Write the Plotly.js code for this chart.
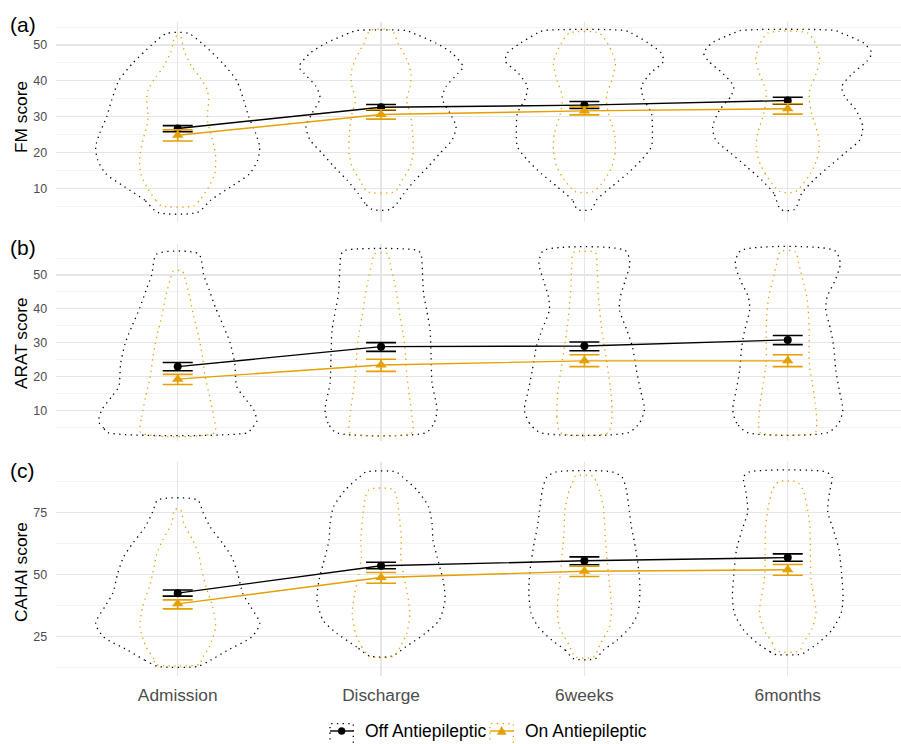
<!DOCTYPE html>
<html>
<head>
<meta charset="utf-8">
<script src="https://cdn.plot.ly/plotly-3.0.1.min.js"></script>
<style>html,body{margin:0;padding:0;background:#fff;}#chart{width:901px;height:744px;}</style>
</head>
<body>
<div id="chart"></div>
<script>
// ---------------- DATA ----------------
const categories = ['Admission', 'Discharge', '6weeks', '6months'];
const groups = ['Off Antiepileptic', 'On Antiepileptic'];

// Means and CI bounds
const fmOffMean = [26.7, 32.6, 33.2, 34.5];
const fmOffLo   = [25.8, 31.8, 32.3, 33.5];
const fmOffHi   = [27.5, 33.4, 34.2, 35.4];
const fmOnMean  = [24.8, 30.6, 31.6, 32.2];
const fmOnLo    = [23.2, 29.3, 30.5, 30.7];
const fmOnHi    = [26.3, 31.9, 32.7, 33.6];

const aratOffMean = [22.9, 28.8, 29.0, 30.8];
const aratOffLo   = [21.7, 27.4, 27.6, 29.4];
const aratOffHi   = [24.1, 30.0, 30.2, 32.1];
const aratOnMean  = [19.2, 23.4, 24.6, 24.6];
const aratOnLo    = [17.6, 21.5, 22.9, 22.9];
const aratOnHi    = [20.6, 25.1, 26.4, 26.4];

const cahaiOffMean = [42.5, 53.5, 55.5, 56.8];
const cahaiOffLo   = [41.3, 52.3, 53.9, 55.3];
const cahaiOffHi   = [43.8, 54.9, 57.1, 58.3];
const cahaiOnMean  = [38.2, 48.8, 51.3, 51.9];
const cahaiOnLo    = [36.2, 46.5, 49.2, 49.7];
const cahaiOnHi    = [39.8, 50.8, 53.3, 54.0];

// Violin outlines: score levels and relative density (half-width) per time point
const fmOffVY = [
  [3.3, 6.7, 10.4, 14.1, 17.9, 21.6, 25.3, 30.0, 34.6, 40.0, 44.9, 50.0, 53.2],
  [4.1, 5.8, 8.6, 12.3, 16.0, 19.8, 23.5, 27.2, 30.9, 35.1, 38.4, 42.1, 43.9, 47.7, 50.5, 53.3, 54.0],
  [4.1, 6.7, 10.4, 14.1, 17.9, 21.6, 25.3, 30.9, 35.1, 38.4, 42.1, 45.4, 47.7, 50.5, 53.3, 54.0],
  [4.1, 8.6, 12.3, 16.0, 19.8, 23.5, 27.2, 31.9, 35.6, 38.4, 42.1, 45.4, 47.7, 50.5, 53.3, 54.0]
];
const fmOffVD = [
  [20, 33, 53, 72, 80, 82, 78, 71, 66, 59, 45, 26, 11],
  [9, 16, 23, 34, 47, 59, 71, 75, 69, 61, 65, 77, 82, 71, 55, 32, 25],
  [7, 12, 27, 43, 57, 67, 68, 67, 59, 57, 66, 79, 77, 64, 47, 41],
  [7, 14, 26, 41, 57, 72, 75, 68, 57, 54, 65, 79, 84, 76, 54, 48]
];
const fmOnVY = [
  [5.1, 6.7, 10.4, 14.1, 18.8, 22.0, 25.3, 28.5, 31.5, 34.7, 37.5, 41.0, 44.0, 48.0, 50.0, 52.3],
  [9.1, 12.3, 16.0, 19.8, 23.5, 27.2, 30.9, 34.7, 38.4, 42.1, 45.8, 50.5, 54.0],
  [9.1, 12.3, 16.0, 20.6, 25.3, 30.9, 35.6, 40.2, 44.9, 47.7, 50.5, 53.3],
  [9.1, 14.1, 17.9, 21.6, 25.3, 30.9, 34.7, 37.5, 42.1, 45.8, 47.7, 50.5, 53.3]
];
const fmOnVD = [
  [16, 22, 31, 37, 38, 36, 33, 30, 30, 31, 29.5, 22, 14, 7, 5, 3],
  [14, 21, 29, 32, 32, 31, 29, 25.5, 29, 30, 26, 17, 11],
  [9, 20, 27.5, 31, 30, 24, 22, 27.5, 31, 28, 23, 15],
  [8, 22.5, 29, 31.5, 30, 24, 21.5, 22, 28.5, 32, 31, 27.5, 20]
];

const aratOffVY = [
  [3.4, 4.7, 6.6, 10.1, 14.0, 17.0, 23.9, 29.8, 34.7, 40.2, 45.6, 50.0, 56.2],
  [3.4, 6.2, 10.1, 18.0, 25.9, 33.7, 39.7, 44.6, 53.4, 56.0, 57.2],
  [3.4, 6.2, 10.1, 16.0, 21.9, 28.8, 33.7, 39.7, 43.6, 48.5, 53.4, 57.2],
  [3.4, 6.2, 10.1, 16.0, 21.9, 28.8, 33.7, 39.7, 43.6, 48.5, 53.4, 57.2]
];
const aratOffVD = [
  [70, 74, 79, 76, 66, 59, 57, 52.5, 46, 38, 31.5, 26, 21],
  [45, 53, 56, 51, 50, 49, 45.5, 42.5, 41, 40, 37],
  [44, 55, 60, 56, 52, 48, 42.5, 35, 36, 41, 45.5, 41],
  [40, 51, 55, 51.5, 48, 46, 43, 38, 39.5, 47.5, 52.5, 47]
];
const aratOnVY = [
  [3.4, 8.1, 14.0, 19.9, 25.9, 31.8, 37.7, 43.6, 48.5, 51.1],
  [3.4, 8.1, 14.0, 19.9, 25.9, 31.8, 37.7, 43.6, 48.5, 53.4, 56.2],
  [3.4, 8.1, 14.0, 23.9, 33.7, 43.6, 53.4, 56.6],
  [3.4, 6.2, 12.1, 18.0, 23.9, 31.8, 37.7, 43.6, 48.5, 53.4, 56.9]
];
const aratOnVD = [
  [37, 36, 32, 27.5, 24.7, 21, 16, 12, 7.7, 4.7],
  [31, 31, 28.5, 26, 24.5, 22.5, 19, 16, 13, 9, 6.7],
  [24, 27.5, 27, 22.5, 17.5, 14, 12.5, 11],
  [27.5, 29, 27.5, 24.5, 21.5, 21.5, 21, 19, 15, 11, 7.5]
];

const cahaiOffVY = [
  [13.1, 15.6, 19.6, 24.9, 30.3, 37.0, 42.4, 50.4, 57.1, 62.5, 69.1, 75.2, 79.9],
  [17.2, 20.9, 26.3, 31.6, 39.7, 47.7, 57.1, 63.8, 70.5, 77.2, 83.9, 89.2, 91.2],
  [16.2, 19.6, 23.6, 28.9, 34.3, 42.4, 50.4, 62.5, 69.1, 75.2, 83.9, 89.2, 91.2],
  [18.0, 18.9, 22.3, 27.6, 34.3, 41.0, 50.4, 59.8, 67.8, 75.2, 82.6, 89.2, 91.2]
];
const cahaiOffVD = [
  [20, 33, 50, 74, 82, 73, 65, 60, 54, 45, 32.5, 25, 20],
  [11, 24.5, 44, 58, 64, 62, 56, 52, 51, 47.5, 36, 21.5, 15],
  [11, 19, 32.5, 46, 53.3, 55.5, 54.7, 50.3, 47, 45, 42, 37.5, 28],
  [14, 17.5, 30, 44, 53.3, 55.3, 53.8, 51.3, 45.8, 40, 41.6, 44.2, 38.3]
];
const cahaiOnVY = [
  [14.0, 16.2, 20.9, 28.9, 37.0, 45.0, 51.7, 58.4, 63.8, 70.5, 76.1],
  [17.2, 20.9, 26.3, 34.3, 42.4, 50.4, 57.1, 63.8, 73.2, 81.2, 84.2],
  [16.9, 22.2, 28.9, 37.0, 50.4, 63.8, 77.2, 83.9, 86.8, 89.5],
  [19.3, 22.5, 27.9, 34.6, 40.0, 48.0, 60.1, 69.5, 77.5, 84.2, 87.2]
];
const cahaiOnVD = [
  [22.5, 24, 31.6, 37.8, 35, 28.3, 24.2, 20.8, 15, 6, 3],
  [12.5, 19.2, 25.5, 28.8, 26.3, 22.2, 19.7, 20.3, 18.3, 15.5, 11.7],
  [9, 16, 25, 27, 24, 21, 19, 15, 12, 9],
  [11.7, 15.3, 24, 28.3, 26.7, 23.3, 22.5, 22.2, 19.2, 15, 9.2]
];

const panelLabels = ['(a)', '(b)', '(c)'];
const yTitles = ['FM score', 'ARAT score', 'CAHAI score'];

// ---------------- STYLE ----------------
const OFF_COLOR = '#000000';
const ON_COLOR = '#E69F00';
const VIOLIN_SCALE = 1 / 203.3;   // density units -> category units
const FONT = 'Liberation Sans, Arial, Helvetica, sans-serif';
const W = 901, H = 744;

const panels = [
  {off: [fmOffMean, fmOffLo, fmOffHi], on: [fmOnMean, fmOnLo, fmOnHi],
   offV: [fmOffVY, fmOffVD], onV: [fmOnVY, fmOnVD]},
  {off: [aratOffMean, aratOffLo, aratOffHi], on: [aratOnMean, aratOnLo, aratOnHi],
   offV: [aratOffVY, aratOffVD], onV: [aratOnVY, aratOnVD]},
  {off: [cahaiOffMean, cahaiOffLo, cahaiOffHi], on: [cahaiOnMean, cahaiOnLo, cahaiOnHi],
   offV: [cahaiOffVY, cahaiOffVD], onV: [cahaiOnVY, cahaiOnVD]}
];

const xPos = categories.map((c, i) => i);

function violinOutline(center, ys, ds) {
  const xs = [], yy = [];
  for (let i = 0; i < ys.length; i++) { xs.push(center - ds[i] * VIOLIN_SCALE); yy.push(ys[i]); }
  for (let i = ys.length - 1; i >= 0; i--) { xs.push(center + ds[i] * VIOLIN_SCALE); yy.push(ys[i]); }
  xs.push(xs[0]); yy.push(yy[0]);
  return {xs, yy};
}

const traces = [];
panels.forEach((p, k) => {
  const xa = k === 0 ? 'x' : 'x' + (k + 1);
  const ya = k === 0 ? 'y' : 'y' + (k + 1);
  [[p.offV, OFF_COLOR], [p.onV, ON_COLOR]].forEach(([v, col]) => {
    categories.forEach((c, i) => {
      const o = violinOutline(xPos[i], v[0][i], v[1][i]);
      traces.push({
        type: 'scatter', mode: 'lines', x: o.xs, y: o.yy, xaxis: xa, yaxis: ya,
        line: {color: col, width: 1.3, dash: '1.3px,4.4px', shape: 'spline', smoothing: 0.7},
        hoverinfo: 'skip', showlegend: false
      });
    });
  });
  [[p.off, OFF_COLOR, 'circle', 8, groups[0]], [p.on, ON_COLOR, 'triangle-up', 10, groups[1]]].forEach(([s, col, sym, sz, name]) => {
    const [mean, lo, hi] = s;
    traces.push({
      type: 'scatter', mode: 'lines+markers', name: name, x: xPos, y: mean, xaxis: xa, yaxis: ya,
      line: {color: col, width: 1.4},
      marker: {color: col, symbol: sym, size: sz},
      error_y: {type: 'data', symmetric: false,
        array: hi.map((h, i) => h - mean[i]), arrayminus: lo.map((l, i) => mean[i] - l),
        color: col, thickness: 1.6, width: 15},
      showlegend: false
    });
  });
});

// ---------------- LAYOUT ----------------
const px = v => v / W;
const py = v => 1 - v / H;

const yRanges = [[0.6, 56.4], [1.0, 59.3], [9.3, 95.2]];
const yDomains = [[py(222), py(22)], [py(440.7), py(243.5)], [py(675.8), py(462)]];
const yDticks = [10, 10, 25];
const labelY = [25, 248, 470];
const titleY = [117, 343, 572];

const layout = {
  width: W, height: H,
  margin: {l: 0, r: 0, t: 0, b: 0},
  paper_bgcolor: '#ffffff', plot_bgcolor: '#ffffff',
  font: {family: FONT, color: '#000000'},
  showlegend: false,
  annotations: [],
  shapes: []
};

for (let k = 0; k < 3; k++) {
  const xk = k === 0 ? 'xaxis' : 'xaxis' + (k + 1);
  const yk = k === 0 ? 'yaxis' : 'yaxis' + (k + 1);
  const ya = k === 0 ? 'y' : 'y' + (k + 1);
  const xa = k === 0 ? 'x' : 'x' + (k + 1);
  layout[xk] = {
    domain: [px(55.7), 1], anchor: ya, range: [-0.6, 3.557],
    tickvals: xPos, ticktext: categories, showticklabels: k === 2,
    ticks: k === 2 ? 'outside' : '', ticklen: 3, tickcolor: 'rgba(0,0,0,0)',
    tickfont: {size: 17.3, color: '#4D4D4D', family: FONT},
    showgrid: true, gridcolor: '#E6E6E6', gridwidth: 1.2,
    zeroline: false, showline: false
  };
  layout[yk] = {
    domain: yDomains[k], anchor: xa, range: yRanges[k],
    dtick: yDticks[k], tick0: 0,
    ticks: 'outside', ticklen: 5, tickcolor: 'rgba(0,0,0,0)',
    tickfont: {size: 12.5, color: '#4D4D4D', family: FONT},
    showgrid: true, gridcolor: '#E6E6E6', gridwidth: 1.2,
    minor: {dtick: yDticks[k] / 2, tick0: 0, showgrid: true, gridcolor: '#EEEEEE', gridwidth: 0.7, ticks: ''},
    zeroline: false, showline: false
  };
  // y-axis title
  layout.annotations.push({
    xref: 'paper', yref: 'paper', x: px(21), y: py(titleY[k]), xanchor: 'center', yanchor: 'middle',
    text: yTitles[k], textangle: -90, showarrow: false,
    font: {size: 17.3, color: '#000000', family: FONT}
  });
  // panel tag
  layout.annotations.push({
    xref: 'paper', yref: 'paper', x: px(7.5), y: py(labelY[k]), xanchor: 'left', yanchor: 'middle',
    text: panelLabels[k], showarrow: false, font: {size: 21, color: '#000000', family: FONT}
  });
}

// Custom legend (key: dotted violin box + line + point)
const legendItems = [
  {name: groups[0], color: OFF_COLOR, box: [330, 353.3], textX: 362.5, marker: 'circle'},
  {name: groups[1], color: ON_COLOR, box: [490, 513.3], textX: 522.5, marker: 'triangle'}
];
const legY = 731;
legendItems.forEach(it => {
  layout.shapes.push({type: 'rect', xref: 'paper', yref: 'paper',
    x0: px(it.box[0]), x1: px(it.box[1]), y0: py(748), y1: py(723.7),
    line: {color: it.color, width: 1.3, dash: '1.3px,4.4px'}, fillcolor: 'rgba(0,0,0,0)'});
  layout.shapes.push({type: 'line', xref: 'paper', yref: 'paper',
    x0: px(it.box[0]), x1: px(it.box[1]), y0: py(legY), y1: py(legY),
    line: {color: it.color, width: 1.4}});
  const cx = (it.box[0] + it.box[1]) / 2;
  if (it.marker === 'circle') {
    layout.shapes.push({type: 'circle', xref: 'paper', yref: 'paper',
      x0: px(cx - 3.5), x1: px(cx + 3.5), y0: py(legY + 3.5), y1: py(legY - 3.5),
      fillcolor: it.color, line: {color: it.color, width: 0.5}});
  } else {
    const path = 'M' + px(cx - 4.5) + ',' + py(legY + 3.5) + ' L' + px(cx + 4.5) + ',' + py(legY + 3.5) +
      ' L' + px(cx) + ',' + py(legY - 4.5) + ' Z';
    layout.shapes.push({type: 'path', xref: 'paper', yref: 'paper', path: path,
      fillcolor: it.color, line: {color: it.color, width: 0.5}});
  }
  layout.annotations.push({xref: 'paper', yref: 'paper', x: px(it.textX), y: py(legY),
    xanchor: 'left', yanchor: 'middle', text: it.name, showarrow: false,
    font: {size: 17.5, color: '#000000', family: FONT}});
});

Plotly.newPlot('chart', traces, layout, {staticPlot: true, displayModeBar: false});
</script>
</body>
</html>
